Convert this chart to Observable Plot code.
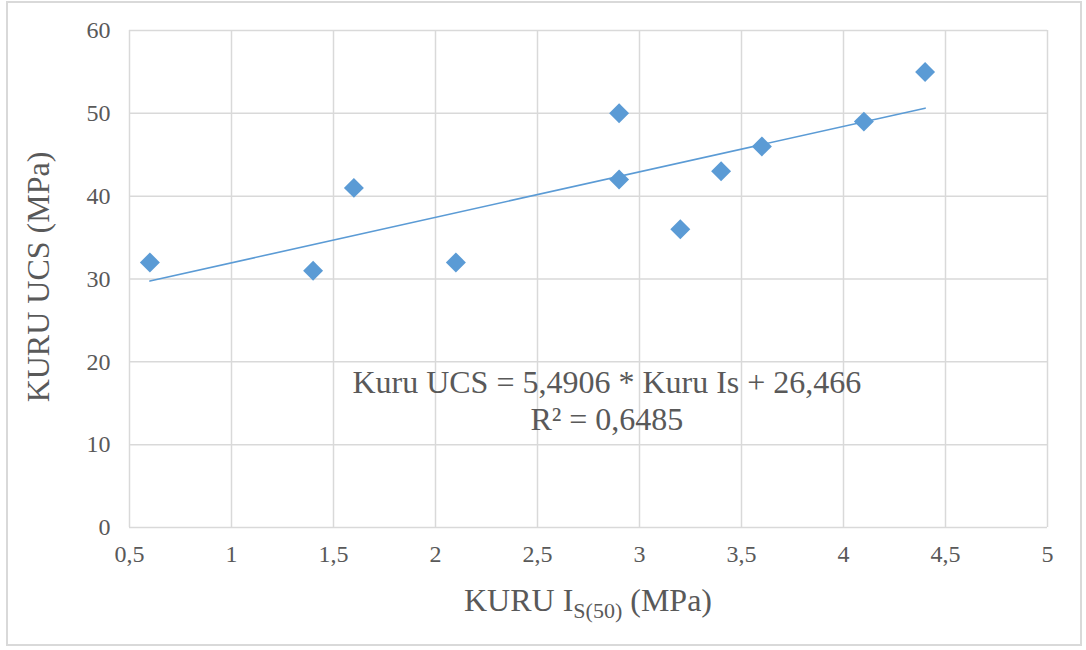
<!DOCTYPE html>
<html>
<head>
<meta charset="utf-8">
<script src="https://cdn.jsdelivr.net/npm/d3@7"></script>
<script src="https://cdn.jsdelivr.net/npm/@observablehq/plot@0.6"></script>
<style>
  html, body { margin: 0; padding: 0; background: #fff; }
  #wrap { position: relative; width: 1086px; height: 650px; font-family: "Liberation Serif", "DejaVu Serif", serif; }
  #frame { position: absolute; left: 6px; top: 1px; width: 1076px; height: 645px; border: 2px solid #d9d9d9; box-sizing: border-box; pointer-events: none; }
  svg { position: absolute; left: 0; top: 0; }
  svg text { font-family: "Liberation Serif", "DejaVu Serif", serif; }
</style>
</head>
<body>
<div id="wrap"><div id="frame"></div></div>
<script>
// Data
const isValues  = [0.6, 1.4, 1.6, 2.1, 2.9, 2.9, 3.2, 3.4, 3.6, 4.1, 4.4];
const ucsValues = [32, 31, 41, 32, 50, 42, 36, 43, 46, 49, 55];
const xTicks = [0.5, 1, 1.5, 2, 2.5, 3, 3.5, 4, 4.5, 5];
const yTicks = [0, 10, 20, 30, 40, 50, 60];
const slope = 5.4906;
const intercept = 26.466;
const equationText = "Kuru UCS = 5,4906 * Kuru Is + 26,466";
const r2Text = "R² = 0,6485";

const points = isValues.map((x, i) => ({x, y: ucsValues[i]}));
const xMin = d3.min(isValues), xMax = d3.max(isValues);
const trend = [xMin, xMax].map(x => ({x, y: slope * x + intercept}));
const fmt = d => String(d).replace(".", ",");
const blue = "#5b9bd5";
const grid = "#d9d9d9";
const textColor = "#595959";

const chart = Plot.plot({
  width: 1086,
  height: 650,
  marginLeft: 129,
  marginRight: 39,
  marginTop: 30,
  marginBottom: 123,
  style: {fontSize: "24px", color: textColor, background: "transparent"},
  x: {domain: [0.5, 5], ticks: xTicks, tickFormat: fmt},
  y: {domain: [0, 60], ticks: yTicks},
  marks: [
    Plot.gridX(xTicks, {stroke: grid, strokeOpacity: 1, strokeWidth: 1.5}),
    Plot.gridY(yTicks, {stroke: grid, strokeOpacity: 1, strokeWidth: 1.5}),
    Plot.axisX(xTicks, {tickSize: 0, tickPadding: 17, tickFormat: fmt, label: null, fill: textColor, fontSize: 24}),
    Plot.axisY(yTicks, {tickSize: 0, tickPadding: 19, label: null, fill: textColor, fontSize: 24}),
    Plot.line(trend, {x: "x", y: "y", stroke: blue, strokeWidth: 1.6}),
    Plot.dot(points, {x: "x", y: "y", symbol: "diamond2", r: 9, fill: blue, stroke: "none"}),
    Plot.text([equationText], {x: () => 2.84, y: () => 17.5, text: d => d, fontSize: 32, fill: textColor, textAnchor: "middle"}),
    Plot.text([r2Text], {x: () => 2.84, y: () => 13, text: d => d, fontSize: 32, fill: textColor, textAnchor: "middle"})
  ]
});

document.getElementById("wrap").appendChild(chart);

const svg = d3.select(chart);
// force tick-label size (inline style wins over attributes)
svg.selectAll('g[aria-label$="tick label"]').style("font-size", "24px");
svg.selectAll('g[aria-label$="tick label"] text').style("font-size", "24px");

// Y-axis title
svg.append("text")
  .attr("transform", "translate(49,277) rotate(-90)")
  .attr("text-anchor", "middle")
  .style("font-size", "32px")
  .attr("fill", textColor)
  .text("KURU UCS (MPa)");
// X-axis title with subscript
const xt = svg.append("text")
  .attr("x", 588).attr("y", 611)
  .attr("text-anchor", "middle")
  .style("font-size", "32px")
  .attr("fill", textColor);
xt.append("tspan").text("KURU I");
xt.append("tspan").style("font-size", "22px").attr("dy", 7).text("S(50)");
xt.append("tspan").attr("dy", -7).text(" (MPa)");
</script>
</body>
</html>
